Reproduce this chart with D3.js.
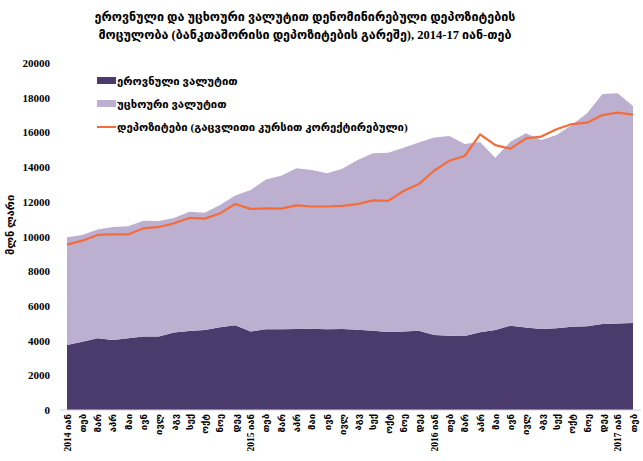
<!DOCTYPE html>
<html>
<head>
<meta charset="utf-8">
<script src="https://cdn.jsdelivr.net/npm/d3@7"></script>
<style>
  body { margin: 0; background: #fff; }
  text { font-family: "Liberation Serif", "DejaVu Sans", serif; }
</style>
</head>
<body>
<div id="chart"></div>
<script>
// month labels, 2014 jan .. 2017 feb
const monthNames = ["იან", "თებ", "მარ", "აპრ", "მაი", "ივნ", "ივლ", "აგვ", "სექ", "ოქტ", "ნოე", "დეკ"];
const months = [];
for (let y = 2014; y <= 2017; y++) {
    monthNames.forEach((m, i) => {
        if (y === 2017 && i > 1) return;
        months.push(i === 0 ? y + " " + m : m);
    });
}

// national currency deposits, mln GEL
const national = [3750, 3940, 4130, 4030, 4130, 4230, 4230, 4460, 4550, 4610, 4770, 4880,
    4530, 4650, 4650, 4670, 4690, 4650, 4670, 4630, 4570, 4500, 4530, 4570,
    4320, 4280, 4270, 4480, 4610, 4860, 4750, 4670, 4710, 4800, 4820, 4960,
    4980, 5010];
// foreign currency deposits, mln GEL
const foreign = [6200, 6150, 6280, 6520, 6460, 6680, 6660, 6610, 6880, 6760, 7040, 7490,
    8150, 8640, 8850, 9260, 9140, 8990, 9240, 9780, 10230, 10330, 10590, 10850,
    11390, 11510, 11060, 10970, 9930, 10610, 11200, 10890, 11140, 11630, 12280, 13250,
    13270, 12510];
// deposits at constant exchange rate
const adjusted = [9530, 9760, 10090, 10120, 10120, 10470, 10550, 10760, 11070, 11030, 11330, 11870,
    11590, 11620, 11610, 11790, 11730, 11730, 11760, 11870, 12080, 12050, 12620, 13020,
    13790, 14370, 14640, 15890, 15270, 15060, 15660, 15760, 16180, 16480, 16560, 17000,
    17140, 17020];

const yTicks = [0, 2000, 4000, 6000, 8000, 10000, 12000, 14000, 16000, 18000, 20000];

const width = 643, height = 461;
const svg = d3.select("#chart").append("svg")
    .attr("width", width)
    .attr("height", height);

// labels repeat, so the scale works on the index
const x = d3.scalePoint().domain(d3.range(months.length)).range([67, 633]);
const y = d3.scaleLinear().domain([0, 20000]).range([410, 63]);

const rows = months.map((m, i) => ({ i: i, national: national[i], foreign: foreign[i] }));
const stack = d3.stack().keys(["national", "foreign"]);
const series = stack(rows);
const colors = { national: "#4b3a6c", foreign: "#bdafd0" };

const area = d3.area()
    .x(d => x(d.data.i))
    .y0(d => y(d[0]))
    .y1(d => y(d[1]));

svg.selectAll("path.layer").data(series).enter().append("path")
    .attr("class", "layer")
    .attr("fill", d => colors[d.key])
    .attr("d", area);

const line = d3.line()
    .x((d, i) => x(i))
    .y(d => y(d));

svg.append("path")
    .attr("fill", "none")
    .attr("stroke", "#f26d3a")
    .attr("stroke-width", 2.2)
    .attr("stroke-linejoin", "round")
    .attr("d", line(adjusted));

// x axis
svg.append("line")
    .attr("x1", 60).attr("x2", 641)
    .attr("y1", y(0)).attr("y2", y(0))
    .attr("stroke", "#d0d0d0");

svg.append("g").selectAll("text").data(months).enter().append("text")
    .attr("transform", (d, i) => `translate(${x(i) + 3.5},414) rotate(-90)`)
    .attr("text-anchor", "end")
    .attr("font-size", 9.5)
    .attr("font-weight", "bold")
    .text(d => d);

// y axis labels
svg.append("g").selectAll("text").data(yTicks).enter().append("text")
    .attr("x", 50)
    .attr("y", d => y(d) + 4)
    .attr("text-anchor", "end")
    .attr("font-size", 11)
    .attr("font-weight", "bold")
    .text(d => d);

svg.append("text")
    .attr("transform", "translate(14,225) rotate(-90)")
    .attr("text-anchor", "middle")
    .attr("font-size", 11)
    .attr("font-weight", "bold")
    .text("მლნ ლარი");

// title
const title = svg.append("text")
    .attr("text-anchor", "middle")
    .attr("font-size", 12.5)
    .attr("font-weight", "bold");
title.append("tspan").attr("x", 305).attr("y", 21)
    .text("ეროვნული და უცხოური ვალუტით დენომინირებული დეპოზიტების");
title.append("tspan").attr("x", 305).attr("y", 39)
    .text("მოცულობა (ბანკთაშორისი დეპოზიტების გარეშე), 2014-17 იან-თებ");

// legend
const legend = [
    { name: "ეროვნული ვალუტით", color: colors.national, type: "box" },
    { name: "უცხოური ვალუტით", color: colors.foreign, type: "box" },
    { name: "დეპოზიტები (გაცვლითი კურსით კორექტირებული)", color: "#f26d3a", type: "line" }
];
const lg = svg.append("g").selectAll("g").data(legend).enter().append("g")
    .attr("transform", (d, i) => `translate(97,${81 + i * 23})`);
lg.filter(d => d.type === "box").append("rect")
    .attr("x", 0).attr("y", -4).attr("width", 19).attr("height", 7)
    .attr("fill", d => d.color);
lg.filter(d => d.type === "line").append("line")
    .attr("x1", 0).attr("x2", 19).attr("y1", 0).attr("y2", 0)
    .attr("stroke", d => d.color).attr("stroke-width", 2);
lg.append("text")
    .attr("x", 20).attr("y", 4)
    .attr("font-size", 11.3)
    .attr("font-weight", "bold")
    .text(d => d.name);
</script>
</body>
</html>
